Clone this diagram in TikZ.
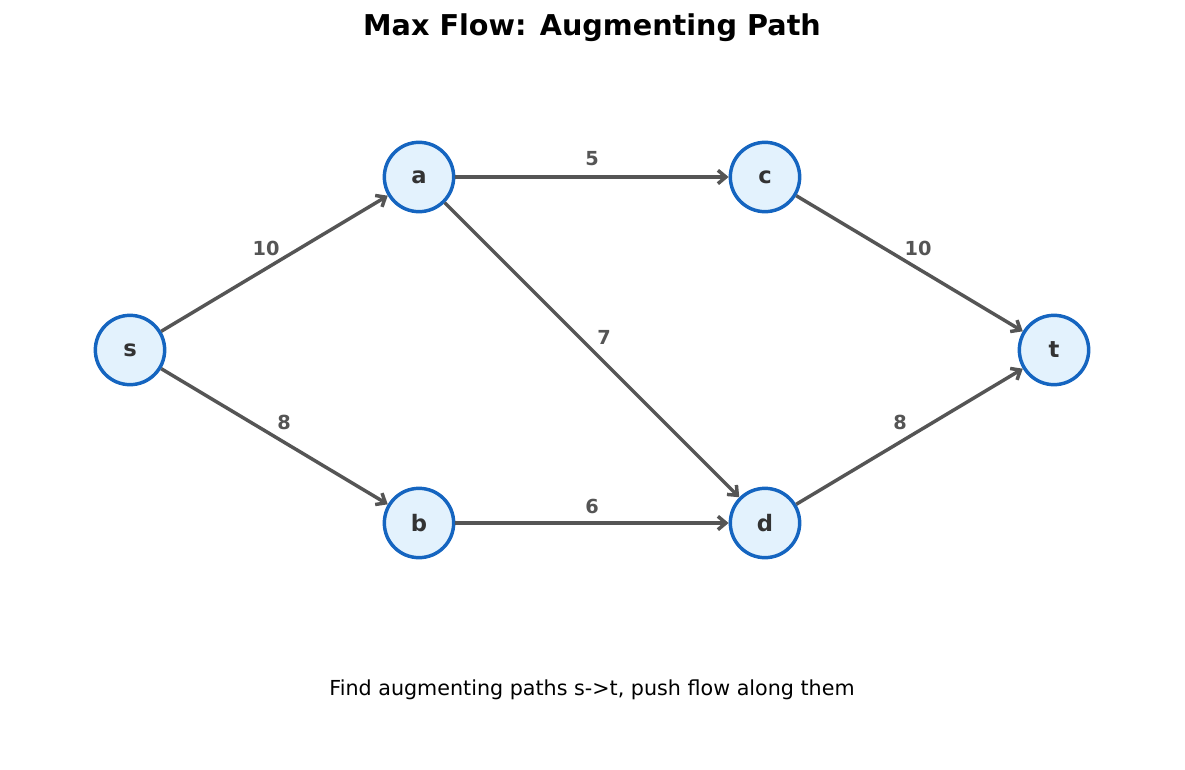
\documentclass[tikz,border=0pt]{standalone}
\usepackage{fontspec}
\setmainfont{DejaVu Sans}
\usetikzlibrary{arrows.meta}
\definecolor{nfill}{HTML}{E3F2FD}
\definecolor{ndraw}{HTML}{1565C0}
\definecolor{edge}{HTML}{555555}
\definecolor{ntext}{HTML}{333333}
\tikzset{
  vert/.style={circle,draw=ndraw,fill=nfill,line width=2.6pt,minimum size=52pt,inner sep=0pt,text=ntext,font=\fontsize{17}{20}\selectfont\bfseries},
  flow/.style={draw=edge,line width=2.6pt,-{Straight Barb[length=6pt,width=10pt]}},
  wlabel/.style={text=edge,font=\fontsize{14.5}{17}\selectfont\bfseries,fill=white,inner sep=1pt}
}
\begin{document}
\begin{tikzpicture}[x=0.75pt,y=-0.75pt]
\useasboundingbox (0,0) rectangle (1185,770);
\node[font=\fontsize{21.5}{25}\selectfont\bfseries] (title) at (592,28) {Max Flow: Augmenting Path};
\node[vert] (s) at (130,350) {s};
\node[vert] (a) at (419,177) {a};
\node[vert] (c) at (765,177) {c};
\node[vert] (t) at (1054,350) {t};
\node[vert] (b) at (419,523) {b};
\node[vert] (d) at (765,523) {d};
\draw[flow] (s) -- (a);
\draw[flow] (s) -- (b);
\draw[flow] (a) -- (c);
\draw[flow] (a) -- (d);
\draw[flow] (b) -- (d);
\draw[flow] (c) -- (t);
\draw[flow] (d) -- (t);
\node[wlabel] (l1) at (266,248) {10};
\node[wlabel] (l2) at (284,422) {8};
\node[wlabel] (l3) at (592,159) {5};
\node[wlabel] (l4) at (604,337) {7};
\node[wlabel] (l5) at (592,506) {6};
\node[wlabel] (l6) at (918,248) {10};
\node[wlabel] (l7) at (900,422) {8};
\node[font=\fontsize{15.5}{18}\selectfont] (caption) at (592,690) {Find augmenting paths s->t, push flow along them};
\end{tikzpicture}
\end{document}
